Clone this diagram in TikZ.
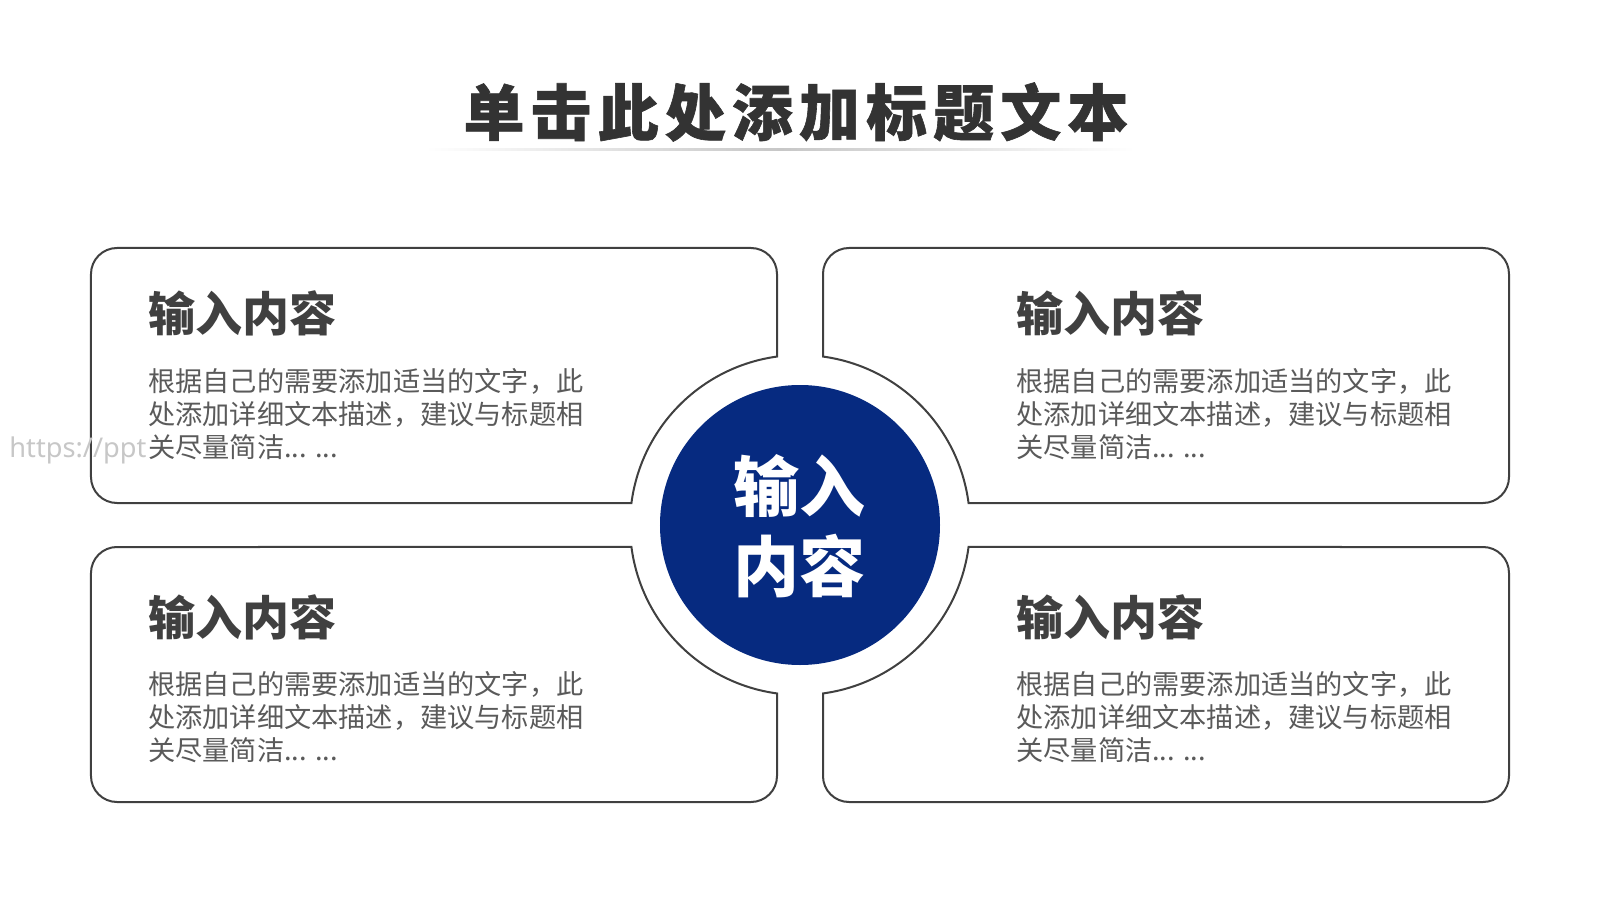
\documentclass[tikz,border=0pt]{standalone}
\usepackage{fontspec}
\newfontfamily\cjk{Noto Sans CJK SC}
\newfontfamily\titlefont{Noto Sans CJK SC}[LetterSpace=10,BoldFeatures={FakeBold=1}]
\newfontfamily\wmfont{Noto Sans}
\definecolor{navy}{RGB}{6,42,128}
\definecolor{edgec}{RGB}{64,64,64}
\definecolor{headc}{RGB}{64,64,64}
\definecolor{bodyc}{RGB}{90,90,90}
\definecolor{titlec}{RGB}{51,51,51}
\begin{document}
\begin{tikzpicture}[x=0.5pt,y=0.5pt,
  panel/.style={draw=edgec,line width=1pt,fill=white},
  head/.style={anchor=west,inner sep=0pt,font=\cjk\bfseries\fontsize{23.5pt}{28pt}\selectfont,text=headc},
  body/.style={anchor=west,inner sep=0pt,align=left,font=\cjk\fontsize{13.6pt}{16.5pt}\selectfont,text=bodyc},
  panelshape/.pic={\draw[panel] (-683,277) -- (-49,277) arc[start angle=90,end angle=0,radius=26]
     -- (-23,168.44) arc[start angle=97.78,end angle=172.57,radius=170]
     -- (-683,22) arc[start angle=270,end angle=180,radius=26]
     -- (-709,251) arc[start angle=180,end angle=90,radius=26] -- cycle;}]
\useasboundingbox (-800,-375) rectangle (800,525);
\fill[white] (-800,-375) rectangle (800,525);
% title
\node[font=\titlefont\bfseries\fontsize{30.5pt}{36pt}\selectfont,text=titlec,inner sep=0pt] (title) at (-4,413) {单击此处添加标题文本};
\shade[left color=white,right color=white,middle color=black!22] (-375,374) rectangle (335,376);
% panels
\pic {panelshape};
\pic[xscale=-1] {panelshape};
\pic[yscale=-1] {panelshape};
\pic[xscale=-1,yscale=-1] {panelshape};
% centre disc
\fill[navy] (0,0) circle[radius=140];
\node[font=\cjk\bfseries\fontsize{33pt}{40pt}\selectfont,text=white,align=center,inner sep=0pt] (centre) at (-1,-1) {输入\\内容};
% headings
\node[head] (h1) at (-652,212) {输入内容};
\node[head] (h2) at (216,212) {输入内容};
\node[head] (h3) at (-652,-92) {输入内容};
\node[head] (h4) at (216,-92) {输入内容};
% bodies
\node[body] (b1) at (-652,111) {根据自己的需要添加适当的文字，此\\处添加详细文本描述，建议与标题相\\关尽量简洁... ...};
\node[body] (b2) at (216,111) {根据自己的需要添加适当的文字，此\\处添加详细文本描述，建议与标题相\\关尽量简洁... ...};
\node[body] (b3) at (-652,-192) {根据自己的需要添加适当的文字，此\\处添加详细文本描述，建议与标题相\\关尽量简洁... ...};
\node[body] (b4) at (216,-192) {根据自己的需要添加适当的文字，此\\处添加详细文本描述，建议与标题相\\关尽量简洁... ...};
% watermark
\node[anchor=west,inner sep=0pt,font=\wmfont\fontsize{13.6pt}{16pt}\selectfont,text=black!22] (wm) at (-791,75) {https://ppt};
\end{tikzpicture}
\end{document}
